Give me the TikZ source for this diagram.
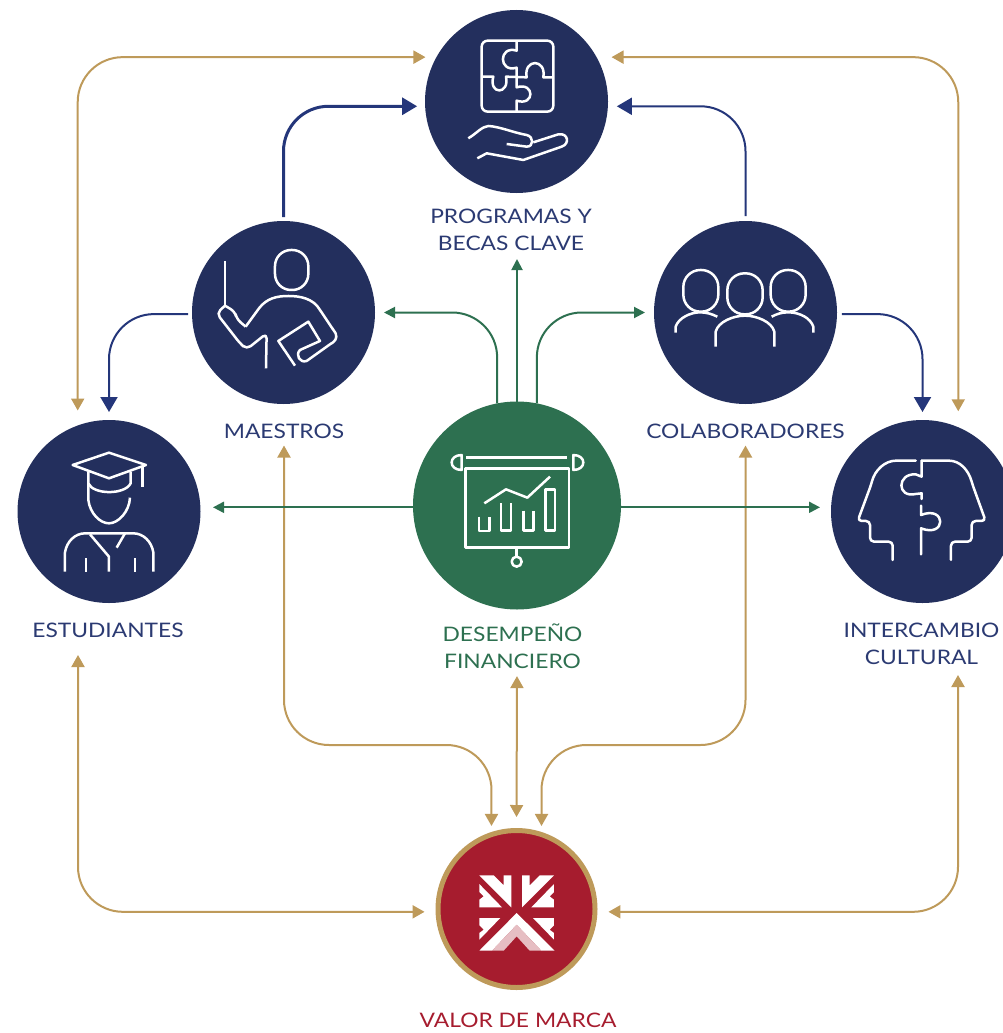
\documentclass[tikz,border=0pt]{standalone}
\usepackage{fontspec}
\setmainfont[FakeStretch=1.14]{Lato}
\usetikzlibrary{arrows.meta}
\definecolor{navy}{HTML}{232F5D}
\definecolor{ink}{HTML}{2B3A72}
\definecolor{bluearrow}{HTML}{24367A}
\definecolor{leaf}{HTML}{2D7050}
\definecolor{gold}{HTML}{BE9A5A}
\definecolor{wine}{HTML}{A61C2E}
\definecolor{blush}{HTML}{E6BEC3}

\begin{document}
\begin{tikzpicture}
        [
          x=1pt, y=-1pt,
          disc/.style={circle,fill=navy,inner sep=0pt,outer sep=0pt,minimum size=183pt},
          label/.style={align=center,text=ink,inner sep=1pt,font=\fontsize{20}{27}\selectfont},
          goldline/.style={draw=gold,line width=2pt,rounded corners=45pt,>={Triangle[length=12pt,width=13pt]},<->},
          greenline/.style={draw=leaf,line width=2pt,rounded corners=45pt,>={Triangle[length=11pt,width=11pt]},->},
          blueline/.style={draw=bluearrow,line width=2pt,rounded corners=45pt,>={Triangle[length=15pt,width=17pt]},->},
          icon/.style={draw=white,line width=2.5pt,line join=round,x=0.3333pt,y=-0.3333pt},
          logo/.style={fill=white,x=0.3333pt,y=-0.3333pt}
        ]
        \useasboundingbox (0,0) rectangle (1003,1033);
        % circles
        \node [disc] (prog) at (516.5,101.5) {};
        \node [disc] (maes) at (283.5,312.5) {};
        \node [disc] (cola) at (745.5,312.5) {};
        \node [disc] (estu) at (109,511.5) {};
        \node [disc] (inte) at (922.5,511.5) {};
        \node [disc,fill=leaf,minimum size=208pt] (dese) at (517,505.5) {};
        \node [circle,fill=wine,draw=gold,line width=5pt,inner sep=0pt,minimum size=157pt] (valo) at (516.5,909) {};
        % labels
        \node [label] (lprog) at (511,230) {PROGRAMAS Y\\BECAS CLAVE};
        \node [label] (lmaes) at (284,431) {MAESTROS};
        \node [label] (lcola) at (745.5,431) {COLABORADORES};
        \node [label] (lestu) at (108,630) {ESTUDIANTES};
        \node [label] (linte) at (921.5,643.5) {INTERCAMBIO\\CULTURAL};
        \node [label,text=leaf] (ldese) at (512.5,646.5) {DESEMPEÑO\\FINANCIERO};
        \node [label,text=wine] (lvalo) at (518,1020) {VALOR DE MARCA};
        % free ends and bends
        \coordinate (elow) at (78,655);
        \coordinate (ilow) at (958,675);
        \coordinate (bendl) at (491.5,745);
        \coordinate (bendr) at (541.5,745);
        % gold edges
        \draw [goldline,shorten <=15pt,shorten >=11pt] (estu.110) |- (prog.151);
        \draw [goldline,shorten <=16pt,shorten >=15pt] (inte.67) |- (prog.29);
        \draw [goldline,shorten >=11pt] (elow) |- (valo.182);
        \draw [goldline,shorten >=11pt] (ilow) |- (valo.-2);
        \draw [goldline,shorten <=6pt,shorten >=6pt] (lmaes.south) |- (bendl) -- (valo.108);
        \draw [goldline,shorten <=6pt,shorten >=6pt] (lcola.south) |- (bendr) -- (valo.72);
        \draw [goldline,shorten <=6pt,shorten >=11pt] (ldese.south -| dese.south) -- (valo.north);
        % green edges
        \draw [greenline,shorten >=9pt] (dese.101) |- (maes.east);
        \draw [greenline,shorten >=9pt] (dese.79) |- (cola.west);
        \draw [greenline,shorten >=7pt] (dese.north) -- (dese.north |- lprog.south);
        \draw [greenline,shorten >=12.5pt] (dese.181.5) -- (dese.181.5 -| estu.east);
        \draw [greenline,shorten >=11pt] (dese.-1.5) -- (dese.-1.5 -| inte.west);
        % blue edges
        \draw [blueline,line width=3pt,shorten <=4pt,shorten >=8pt] (maes.north) |- (prog.183);
        \draw [blueline,shorten <=5pt,shorten >=9pt] (cola.north) |- (prog.-3);
        \draw [blueline,shorten <=4pt,shorten >=8pt] (maes.181.5) -| (estu.north);
        \draw [blueline,shorten <=5pt,shorten >=8pt] (cola.-1.5) -| (inte.north);
        % icon puzzle and hand
        \begin{scope}[shift={(420,0)},icon]
          \draw [rounded corners=6pt] (185,122) rectangle (400,335);
          \draw (290,122) -- (290,152) .. controls (235,135) and (235,220) .. (290,203) -- (290,232)
            -- (290,262) .. controls (345,245) and (345,320) .. (290,302) -- (290,335);
          \draw (185,230) -- (220,230) .. controls (205,285) and (270,285) .. (258,230) -- (320,232)
            .. controls (310,175) and (380,175) .. (370,232) -- (400,232);
          \draw (145,415) .. controls (170,400) and (185,380) .. (205,378) .. controls (240,380) and (280,398) .. (320,405)
            .. controls (342,410) and (342,440) .. (320,440) -- (260,432);
          \draw (340,427) -- (415,403) .. controls (445,398) and (450,432) .. (425,440) -- (310,480) -- (200,460) -- (172,475);
        \end{scope}
        % icon teacher
        \begin{scope}[shift={(185,215)},icon]
          \draw [rounded corners=16pt] (270,105) rectangle (370,225);
          \draw (120,138) -- (120,272);
          \draw [rounded corners=5pt] (120,272) -- (95,295) -- (165,385) -- (185,403) -- (245,355) -- (243,460);
          \draw [rounded corners=5pt] (120,272) -- (150,290) -- (155,312) -- (182,335);
          \draw (182,335) -- (222,280) .. controls (245,250) and (275,243) .. (310,243)
            .. controls (345,243) and (385,250) .. (405,285) -- (452,355)
            .. controls (458,370) and (450,380) .. (435,388) -- (365,438)
            .. controls (345,445) and (330,420) .. (345,405) -- (405,378) -- (370,320) -- (280,378) -- (330,452);
        \end{scope}
        % icon group
        \begin{scope}[shift={(650,215)},icon]
          \draw [rounded corners=17pt] (100,165) rectangle (205,290);
          \draw [rounded corners=17pt] (232,175) rectangle (338,298);
          \draw [rounded corners=17pt] (362,165) rectangle (467,290);
          \draw (77,353) -- (77,335) .. controls (85,310) and (120,292) .. (150,292) .. controls (170,292) and (185,297) .. (202,305);
          \draw (197,395) -- (197,350) .. controls (205,320) and (250,302) .. (285,302)
            .. controls (320,302) and (365,320) .. (373,350) -- (373,395);
          \draw (365,305) .. controls (380,297) and (395,292) .. (415,292) .. controls (450,292) and (482,310) .. (490,335) -- (490,353);
        \end{scope}
        % icon student
        \begin{scope}[shift={(10,415)},icon]
          \draw (188,150) -- (297,113) -- (408,150) -- (297,190) -- cycle;
          \draw (398,155) -- (398,215);
          \draw (235,170) -- (235,205) .. controls (250,240) and (345,240) .. (362,205) -- (362,170);
          \draw (235,205) -- (235,255) .. controls (240,295) and (270,325) .. (297,325)
            .. controls (325,325) and (358,290) .. (360,248);
          \draw (165,470) -- (165,412) .. controls (170,380) and (195,355) .. (225,355) -- (370,355)
            .. controls (400,355) and (425,380) .. (430,412) -- (430,470);
          \draw (240,358) -- (297,425) -- (297,470);
          \draw (345,355) -- (320,398);
          \draw (228,430) -- (228,470);
          \draw (375,430) -- (375,470);
        \end{scope}
        % icon chart
        \begin{scope}[shift={(410,400)},icon]
          \draw (168,173) -- (472,173);
          \draw (155,165) .. controls (115,165) and (115,210) .. (155,210) -- cycle;
          \draw (490,165) .. controls (530,165) and (530,210) .. (490,210) -- cycle;
          \draw (167,205) rectangle (477,442);
          \draw (320,442) -- (320,470);
          \draw (320,485) circle [radius=15];
          \draw (207,350) -- (207,393) -- (238,393) -- (238,350);
          \draw (273,310) -- (273,391) -- (303,391) -- (303,310);
          \draw (340,332) -- (340,392) -- (370,392) -- (370,332);
          \draw (407,268) rectangle (435,392);
          \draw (223,310) -- (288,268) -- (352,293) -- (420,230);
        \end{scope}
        % icon heads
        \begin{scope}[shift={(825,415)},icon,line cap=round]
          \draw [rounded corners=4pt] (272,137) -- (225,137) .. controls (180,137) and (150,165) .. (138,210) -- (98,318) -- (135,318)
            -- (135,380) -- (203,380) -- (203,435);
          \draw [rounded corners=4pt] (290,137) -- (360,137) .. controls (405,137) and (430,165) .. (443,210) -- (482,318) -- (440,318)
            -- (440,380) -- (378,380) -- (378,435);
          \draw (290,137) -- (290,185) -- (272,178) .. controls (215,175) and (215,250) .. (272,237) -- (290,235) -- (290,252);
          \draw (288,272) -- (288,300) .. controls (365,270) and (365,370) .. (288,340) -- (288,418);
        \end{scope}
        % logo
        \begin{scope}[shift={(472,868)},logo]
          \fill (22,22) -- (65,22) -- (95,52) -- (95,22) -- (118,22) -- (118,118) -- cycle;
          \fill (22,48) -- (90,118) -- (22,118) -- (22,95) -- (35,85) -- (22,72) -- cycle;
          \fill (246,22) -- (203,22) -- (173,52) -- (173,22) -- (150,22) -- (150,118) -- cycle;
          \fill (246,48) -- (178,118) -- (246,118) -- (246,95) -- (233,85) -- (246,72) -- cycle;
          \fill (22,150) -- (85,150) -- (22,215) -- (22,195) -- (35,185) -- (22,172) -- cycle;
          \fill (246,150) -- (183,150) -- (246,215) -- (246,195) -- (233,185) -- (246,172) -- cycle;
          \fill (134,135) -- (22,248) -- (60,248) -- (134,170) -- (208,248) -- (248,248) -- cycle;
          \fill [blush] (134,170) -- (60,248) -- (95,248) -- (134,205) -- (173,248) -- (208,248) -- cycle;
        \end{scope}
        \end{tikzpicture}
\end{document}
